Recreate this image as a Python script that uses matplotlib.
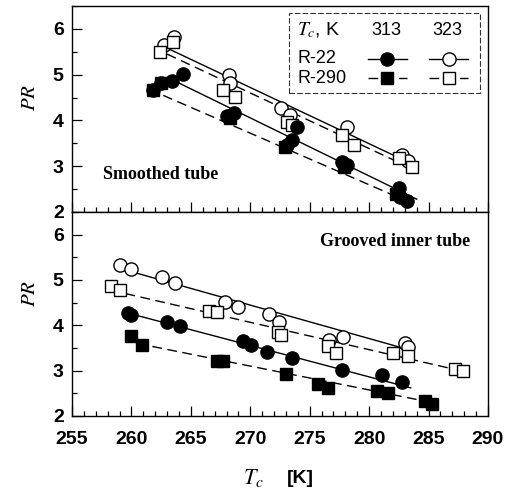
import numpy as np
import matplotlib
matplotlib.use("Agg")
import matplotlib.pyplot as plt
from matplotlib.patches import Rectangle
from matplotlib.lines import Line2D

plt.rcParams['font.family'] = ['Liberation Sans', 'DejaVu Sans']
plt.rcParams['mathtext.fontset'] = 'stix'

# ---- smoothed tube (top panel) ----
s_r22_313_x = [261.8, 262.5, 263.4, 264.3, 268.0, 268.6, 273.1, 273.5, 273.9, 277.7, 278.1, 282.5, 282.6, 283.2]
s_r22_313_y = [4.67, 4.82, 4.86, 5.02, 4.10, 4.16, 3.46, 3.57, 3.86, 3.10, 3.03, 2.52, 2.33, 2.24]
s_r290_313_x = [261.8, 262.5, 268.3, 272.9, 277.9, 282.3]
s_r290_313_y = [4.67, 4.82, 4.05, 3.43, 2.98, 2.40]
s_r22_323_x = [262.7, 263.6, 268.2, 268.3, 272.6, 273.3, 278.1, 282.8, 283.3]
s_r22_323_y = [5.65, 5.83, 5.00, 4.81, 4.27, 4.12, 3.86, 3.25, 3.12]
s_r290_323_x = [262.4, 263.5, 267.7, 268.7, 273.1, 273.5, 277.7, 278.7, 282.5, 283.6]
s_r290_323_y = [5.50, 5.72, 4.67, 4.52, 3.97, 3.90, 3.68, 3.46, 3.19, 2.99]

# fitted lines: (x0, x1), (y0, y1)
s_fit_r22_313 = ([263.5, 284.0], [4.88, 2.28])
s_fit_r290_313 = ([261.5, 283.5], [4.68, 2.20])
s_fit_r22_323 = ([263.0, 284.0], [5.58, 3.00])
s_fit_r290_323 = ([263.0, 284.0], [5.45, 2.90])

# ---- grooved inner tube (bottom panel) ----
g_r22_313_x = [259.7, 260.0, 263.0, 264.1, 269.4, 270.1, 271.4, 273.5, 277.7, 281.1, 282.8]
g_r22_313_y = [4.28, 4.23, 4.08, 3.99, 3.66, 3.57, 3.42, 3.29, 3.01, 2.90, 2.76]
g_r290_313_x = [260.0, 260.9, 267.2, 267.7, 273.0, 275.7, 276.5, 280.7, 281.6, 284.7, 285.3]
g_r290_313_y = [3.76, 3.57, 3.21, 3.21, 2.92, 2.71, 2.61, 2.56, 2.50, 2.32, 2.26]
g_r22_323_x = [259.0, 260.0, 262.6, 263.7, 267.9, 269.0, 271.6, 272.4, 276.6, 277.8, 283.0, 283.3]
g_r22_323_y = [5.33, 5.24, 5.06, 4.94, 4.52, 4.41, 4.25, 4.07, 3.68, 3.75, 3.62, 3.53]
g_r290_323_x = [258.3, 259.0, 266.5, 267.2, 272.3, 272.6, 276.5, 277.2, 282.0, 283.3, 287.2, 287.9]
g_r290_323_y = [4.87, 4.78, 4.32, 4.29, 3.86, 3.78, 3.54, 3.40, 3.40, 3.32, 3.03, 3.00]

g_fit_r22_313 = ([260.0, 283.5], [4.25, 2.62])
g_fit_r290_313 = ([260.5, 285.8], [3.60, 2.27])
g_fit_r22_323 = ([259.5, 283.5], [5.22, 3.45])
g_fit_r290_323 = ([259.5, 288.0], [4.70, 2.98])

x_ticks = [255, 260, 265, 270, 275, 280, 285, 290]
y_ticks = [2, 3, 4, 5, 6]

circ = dict(marker='o', ms=9.5, mec='black', mew=1.0, ls='none', zorder=3)
sq = dict(marker='s', ms=8.5, mec='black', mew=1.0, ls='none', zorder=3)
dash = (0, (7, 4))

fig = plt.figure(figsize=(5.17, 4.93), dpi=100)
ax_t = fig.add_axes([0.1393, 0.5700, 0.8046, 0.4178])
ax_b = fig.add_axes([0.1393, 0.1562, 0.8046, 0.4138])


def draw_panel(ax, r22_313, r290_313, r22_323, r290_323, fits):
    f1, f2, f3, f4 = fits
    ax.plot(f3[0], f3[1], color='black', lw=1.0, zorder=2)
    ax.plot(f4[0], f4[1], color='black', lw=1.0, ls=dash, zorder=2)
    ax.plot(f1[0], f1[1], color='black', lw=1.0, zorder=2)
    ax.plot(f2[0], f2[1], color='black', lw=1.0, ls=dash, zorder=2)
    ax.plot(r22_323[0], r22_323[1], mfc='white', **circ)
    ax.plot(r290_323[0], r290_323[1], mfc='white', **sq)
    ax.plot(r290_313[0], r290_313[1], mfc='black', **sq)
    ax.plot(r22_313[0], r22_313[1], mfc='black', **circ)
    ax.set_xlim(255, 290)
    ax.set_ylim(2, 6.5)
    ax.set_xticks(x_ticks)
    ax.set_xticks(np.arange(255, 291, 1), minor=True)
    ax.set_yticks(y_ticks)
    ax.set_yticks(np.arange(2, 6.6, 0.5), minor=True)
    ax.tick_params(which='both', direction='in', top=False, right=False,
                   labelsize=14, width=0.9)
    ax.tick_params(axis='x', pad=11)
    ax.tick_params(axis='y', pad=6)
    ax.tick_params(which='major', length=7)
    ax.tick_params(which='minor', length=3.5)
    for lab in ax.get_xticklabels() + ax.get_yticklabels():
        lab.set_fontweight('bold')
    for sp in ax.spines.values():
        sp.set_linewidth(1.0)


draw_panel(ax_t, (s_r22_313_x, s_r22_313_y), (s_r290_313_x, s_r290_313_y),
           (s_r22_323_x, s_r22_323_y), (s_r290_323_x, s_r290_323_y),
           (s_fit_r22_313, s_fit_r290_313, s_fit_r22_323, s_fit_r290_323))
draw_panel(ax_b, (g_r22_313_x, g_r22_313_y), (g_r290_313_x, g_r290_313_y),
           (g_r22_323_x, g_r22_323_y), (g_r290_323_x, g_r290_323_y),
           (g_fit_r22_313, g_fit_r290_313, g_fit_r22_323, g_fit_r290_323))
ax_t.tick_params(labelbottom=False)

ax_t.text(0.0745, 0.18, 'Smoothed tube', transform=ax_t.transAxes, ha='left', va='center',
          family='Liberation Serif', fontweight='bold', fontsize=13)
ax_b.text(0.957, 0.853, 'Grooved inner tube', transform=ax_b.transAxes, ha='right', va='center',
          family='Liberation Serif', fontweight='bold', fontsize=13)

for y in (0.803, 0.405):
    fig.text(0.058, y, r'$PR$', rotation=90, ha='center', va='center', fontsize=15)
fig.text(0.51, 0.03, r'$T_{c}$', ha='right', va='center', fontsize=16)
fig.text(0.555, 0.03, '[K]', ha='left', va='center', fontsize=14, fontweight='bold')

# legend table
ax_t.add_patch(Rectangle((0.522, 0.578), 0.459, 0.388, transform=ax_t.transAxes,
                         fill=False, lw=0.8, ls=(0, (5, 2)), ec='#333333', zorder=4))
ax_t.text(0.541, 0.883, r'$T_{c}$, K', transform=ax_t.transAxes, ha='left', va='center', fontsize=14)
ax_t.text(0.755, 0.883, '313', transform=ax_t.transAxes, ha='center', va='center', fontsize=13)
ax_t.text(0.903, 0.883, '323', transform=ax_t.transAxes, ha='center', va='center', fontsize=13)
ax_t.text(0.541, 0.743, 'R-22', transform=ax_t.transAxes, ha='left', va='center', fontsize=13)
ax_t.text(0.541, 0.650, 'R-290', transform=ax_t.transAxes, ha='left', va='center', fontsize=13)
key_rows = [(0.743, 'o', 9.5, '-'), (0.650, 's', 8.5, dash)]
for yk, mk, ms, ls in key_rows:
    for xc, fc in ((0.758, 'black'), (0.906, 'white')):
        ax_t.add_line(Line2D([xc - 0.047, xc + 0.047], [yk, yk], transform=ax_t.transAxes,
                             color='black', lw=1.0, ls=ls, zorder=5))
        ax_t.add_line(Line2D([xc], [yk], transform=ax_t.transAxes, marker=mk, ms=ms,
                             mfc=fc, mec='black', mew=1.0, ls='none', zorder=6))

fig.savefig('out.png', dpi=100)
